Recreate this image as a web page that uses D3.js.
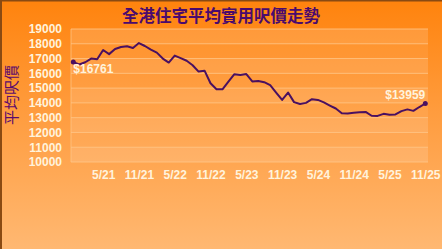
<!DOCTYPE html>
<html lang="zh-Hant">
<head>
<meta charset="UTF-8">
<title>全港住宅平均實用呎價走勢</title>
<script src="https://d3js.org/d3.v7.min.js"></script>
<style>
  html, body { margin: 0; padding: 0; overflow: hidden; }
  svg { display: block; }
  .axis text { font-family: "Liberation Sans", Arial, sans-serif; font-size: 12px; font-weight: bold; fill: #fff3dc; }
  .axis path, .axis line { display: none; }
</style>
</head>
<body>
<svg id="chart" width="442" height="249"></svg>
<script>
// monthly average price per sq ft, Dec 2020 .. Nov 2025
const startMonth = [2020, 12];
const prices = [
  16761, 16600, 16750, 17000, 16950, 17580, 17300, 17650, 17780, 17830, 17720, 18050,
  17850, 17600, 17400, 17000, 16730, 17200, 17030, 16850, 16550, 16120, 16180, 15330,
  14920, 14920, 15440, 15940, 15890, 15950, 15450, 15480, 15400, 15200, 14700, 14200,
  14700, 14050, 13920, 14000, 14250, 14200, 14030, 13820, 13620, 13300, 13290, 13330,
  13360, 13390, 13130, 13120, 13260, 13200, 13220, 13440, 13560, 13460, 13720, 13959
];
const tickLabels = ["5/21", "11/21", "5/22", "11/22", "5/23", "11/23", "5/24", "11/24", "5/25", "11/25"];
const yTicks = [10000, 11000, 12000, 13000, 14000, 15000, 16000, 17000, 18000, 19000];

const months = prices.map((v, i) => {
  const m = (startMonth[1] - 1 + i) % 12 + 1;
  const y = startMonth[0] + Math.floor((startMonth[1] - 1 + i) / 12);
  return m + "/" + String(y).slice(2);
});
const data = prices.map((v, i) => ({ label: months[i], value: v }));

const W = 442, H = 249;
const plot = { left: 71, right: 428, top: 29, bottom: 162 };

const svg = d3.select("#chart");
const defs = svg.append("defs");
const grad = defs.append("linearGradient").attr("id", "bg").attr("x1", 0).attr("y1", 0).attr("x2", 0).attr("y2", 1);
grad.append("stop").attr("offset", "0%").attr("stop-color", "#ff830d");
grad.append("stop").attr("offset", "45%").attr("stop-color", "#ff9c3e");
grad.append("stop").attr("offset", "100%").attr("stop-color", "#ffb872");

svg.append("rect").attr("width", W).attr("height", H).attr("fill", "url(#bg)");
// dark frame on left and top
svg.append("rect").attr("x", 0).attr("y", 0).attr("width", 2).attr("height", H).attr("fill", "#8a4a12");
svg.append("rect").attr("x", 0).attr("y", 0).attr("width", W).attr("height", 1.5).attr("fill", "#8a4a12");

const x = d3.scaleLinear().domain([0, prices.length - 1]).range([73.3, 425.3]);
const y = d3.scaleLinear().domain([10000, 19000]).range([plot.bottom, plot.top]);

// plot area bands
svg.append("rect")
  .attr("x", plot.left).attr("y", plot.top)
  .attr("width", plot.right - plot.left).attr("height", plot.bottom - plot.top)
  .attr("fill", "#ffffff").attr("fill-opacity", 0.07);
svg.append("g").selectAll("rect")
  .data(yTicks.slice(0, -1).filter((d, i) => i % 2 === 0))
  .join("rect")
  .attr("x", plot.left)
  .attr("y", d => y(d + 1000))
  .attr("width", plot.right - plot.left)
  .attr("height", d => y(d) - y(d + 1000))
  .attr("fill", "#ffffff").attr("fill-opacity", 0.08);

// grid lines
svg.append("g").selectAll("line")
  .data(yTicks)
  .join("line")
  .attr("x1", plot.left).attr("x2", plot.right)
  .attr("y1", d => y(d)).attr("y2", d => y(d))
  .attr("stroke", "#ffc78a").attr("stroke-width", 1).attr("stroke-opacity", 0.8);
svg.append("line")
  .attr("x1", plot.left).attr("x2", plot.left)
  .attr("y1", plot.top).attr("y2", plot.bottom)
  .attr("stroke", "#ffc78a").attr("stroke-opacity", 0.7);

// y axis
svg.append("g").attr("class", "axis")
  .attr("transform", `translate(${plot.left - 2},0)`)
  .call(d3.axisLeft(y).tickValues(yTicks).tickSize(0).tickPadding(7).tickFormat(d3.format("d")));

// x axis
const xTickIdx = tickLabels.map(t => months.indexOf(t));
svg.append("g").attr("class", "axis")
  .attr("transform", `translate(0,${plot.bottom + 2})`)
  .call(d3.axisBottom(x).tickValues(xTickIdx).tickSize(0).tickPadding(6).tickFormat(i => months[i]));

// line
const line = d3.line().x((d, i) => x(i)).y(d => y(d.value));
svg.append("path")
  .datum(data)
  .attr("fill", "none")
  .attr("stroke", "#4a1060")
  .attr("stroke-width", 2)
  .attr("stroke-linejoin", "round")
  .attr("d", line);

const last = prices.length - 1;
svg.append("g").selectAll("circle")
  .data([0, last])
  .join("circle")
  .attr("cx", i => x(i)).attr("cy", i => y(prices[i]))
  .attr("r", 2.5).attr("fill", "#4a1060");

// value labels
const labelStyle = s => s
  .attr("font-family", "'Liberation Sans', Arial, sans-serif")
  .attr("font-size", 12).attr("font-weight", "bold").attr("fill", "#fff3dc");
svg.append("text").call(labelStyle)
  .attr("x", x(0)).attr("y", y(prices[0]) + 11)
  .text("$" + prices[0]);
svg.append("text").call(labelStyle)
  .attr("x", x(last)).attr("y", y(prices[last]) - 4)
  .attr("text-anchor", "end")
  .text("$" + prices[last]);

// titles
svg.append("text")
  .attr("x", 221).attr("y", 22)
  .attr("text-anchor", "middle")
  .attr("font-family", "'Noto Sans CJK TC', sans-serif")
  .attr("font-size", 16.5).attr("font-weight", "bold")
  .attr("fill", "#4a0a6e")
  .text("全港住宅平均實用呎價走勢");
svg.append("text")
  .attr("transform", "translate(17,95) rotate(-90)")
  .attr("text-anchor", "middle")
  .attr("font-family", "'Noto Sans CJK TC', sans-serif")
  .attr("font-size", 15)
  .attr("fill", "#5a0a6e")
  .text("平均呎價");
</script>
</body>
</html>
